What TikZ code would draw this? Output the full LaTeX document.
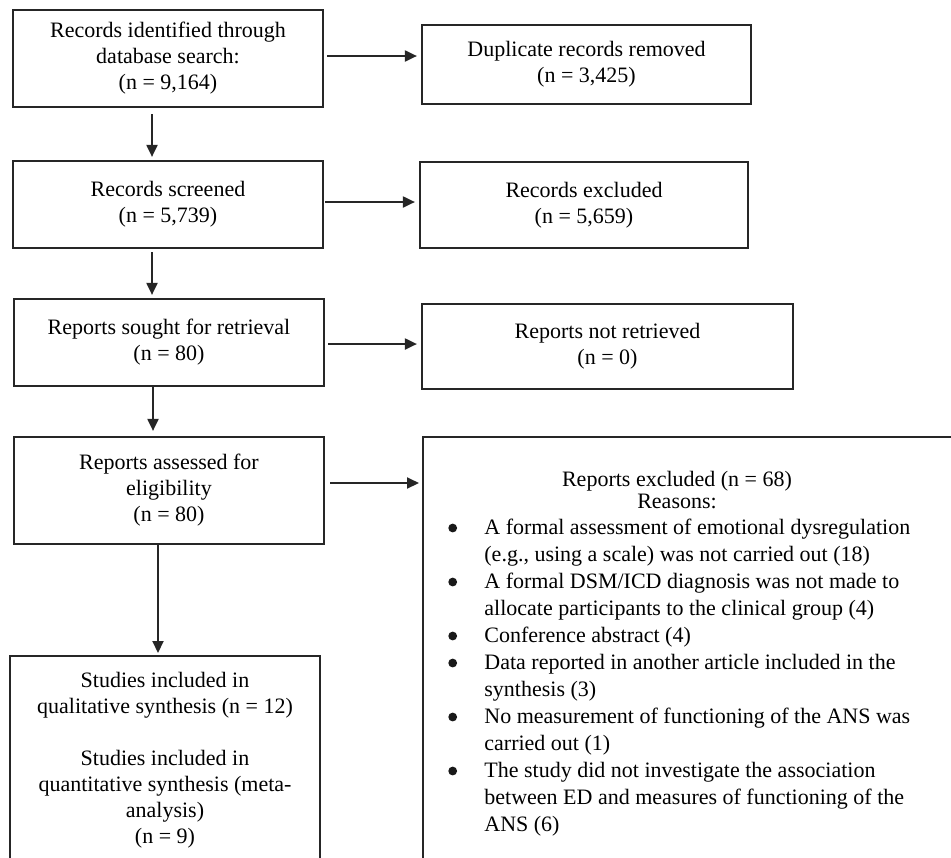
\documentclass[tikz,border=0pt]{standalone}
\usepackage{fontspec}
\setmainfont{Liberation Serif}
\usetikzlibrary{arrows.meta,calc}
\begin{document}
\begin{tikzpicture}[x=0.5pt,y=-0.5pt,
  box/.style={draw=black!85, line width=1.1pt, inner sep=0pt, align=center, font=\fontsize{11}{13}\selectfont},
  arr/.style={draw=black!85, line width=1pt, -{Triangle[length=6pt,width=5.5pt]}},
  txt/.style={inner sep=0pt, font=\fontsize{11}{13}\selectfont},
  bul/.style={fill=black!90}]
\useasboundingbox (0,0) rectangle (951,857);
\clip (0,0) rectangle (951,857);
\node[box, minimum width=155pt, minimum height=48.5pt] (b1) at (168,58.5) {Records identified through\\database search:\\(n = 9,164)};
\node[box, minimum width=164.5pt, minimum height=39.5pt] (b2) at (586.5,64.5) {Duplicate records removed\\(n = 3,425)};
\node[box, minimum width=155pt, minimum height=43.5pt] (b3) at (168,204.5) {Records screened\\(n = 5,739)};
\node[box, minimum width=164pt, minimum height=43pt] (b4) at (584,205) {Records excluded\\(n = 5,659)};
\node[box, minimum width=155pt, minimum height=43.5pt] (b5) at (169,342.5) {Reports sought for retrieval\\(n = 80)};
\node[box, minimum width=185.5pt, minimum height=42.5pt] (b6) at (607.5,346.5) {Reports not retrieved\\(n = 0)};
\node[box, minimum width=155pt, minimum height=53.5pt] (b7) at (169,490.5) {Reports assessed for\\eligibility\\(n = 80)};
\node[box, anchor=north west, minimum width=280pt, minimum height=230pt] (b8) at (422,436) {};
\node[box, anchor=north, minimum width=155pt, minimum height=120pt] (b9) at (165,655) {};

\node[txt, anchor=base] (b9t) at (165,687) {\begin{tabular}[t]{@{}c@{}}Studies included in\\qualitative synthesis (n = 12)\\[13pt]Studies included in\\quantitative synthesis (meta-\\analysis)\\(n = 9)\end{tabular}};

\node[txt, anchor=base] (h1) at (677,486) {Reports excluded (n = 68)};
\node[txt, anchor=base] (h2) at (677,508) {Reasons:};
\node[txt, anchor=base west, font=\fontsize{11}{13.5}\selectfont] (list) at (484,534) {\begin{tabular}[t]{@{}l@{}}
A formal assessment of emotional dysregulation\\
(e.g., using a scale) was not carried out (18)\\
A formal DSM/ICD diagnosis was not made to\\
allocate participants to the clinical group (4)\\
Conference abstract (4)\\
Data reported in another article included in the\\
synthesis (3)\\
No measurement of functioning of the ANS was\\
carried out (1)\\
The study did not investigate the association\\
between ED and measures of functioning of the\\
ANS (6)
\end{tabular}};
\foreach \yy in {528,582,636,663,717,771}
  \fill[bul] (452.7,\yy) circle[radius=2.2pt];

\draw[arr] ($(b1.east)+(3,-2.5)$) -- ($(b2.west)+(-4,-8.5)$);
\draw[arr] ($(b3.east)+(1,-2.5)$) -- ($(b4.west)+(-4,-3)$);
\draw[arr] ($(b5.east)+(3,1.5)$) -- ($(b6.west)+(-4,-2.5)$);
\draw[arr] ($(b7.east)+(5,-7.5)$) -- ($(b8.north west)+(-3,47)$);
\draw[arr] ($(b1.south)+(-16,6)$) -- ($(b3.north)+(-16,-3)$);
\draw[arr] ($(b3.south)+(-16,3)$) -- ($(b5.north)+(-17,-3)$);
\draw[arr] ($(b5.south)+(-16,0)$) -- ($(b7.north)+(-16,-5)$);
\draw[arr] ($(b7.south)+(-11,0)$) -- ($(b9.north)+(-7,-2)$);
\end{tikzpicture}
\end{document}
